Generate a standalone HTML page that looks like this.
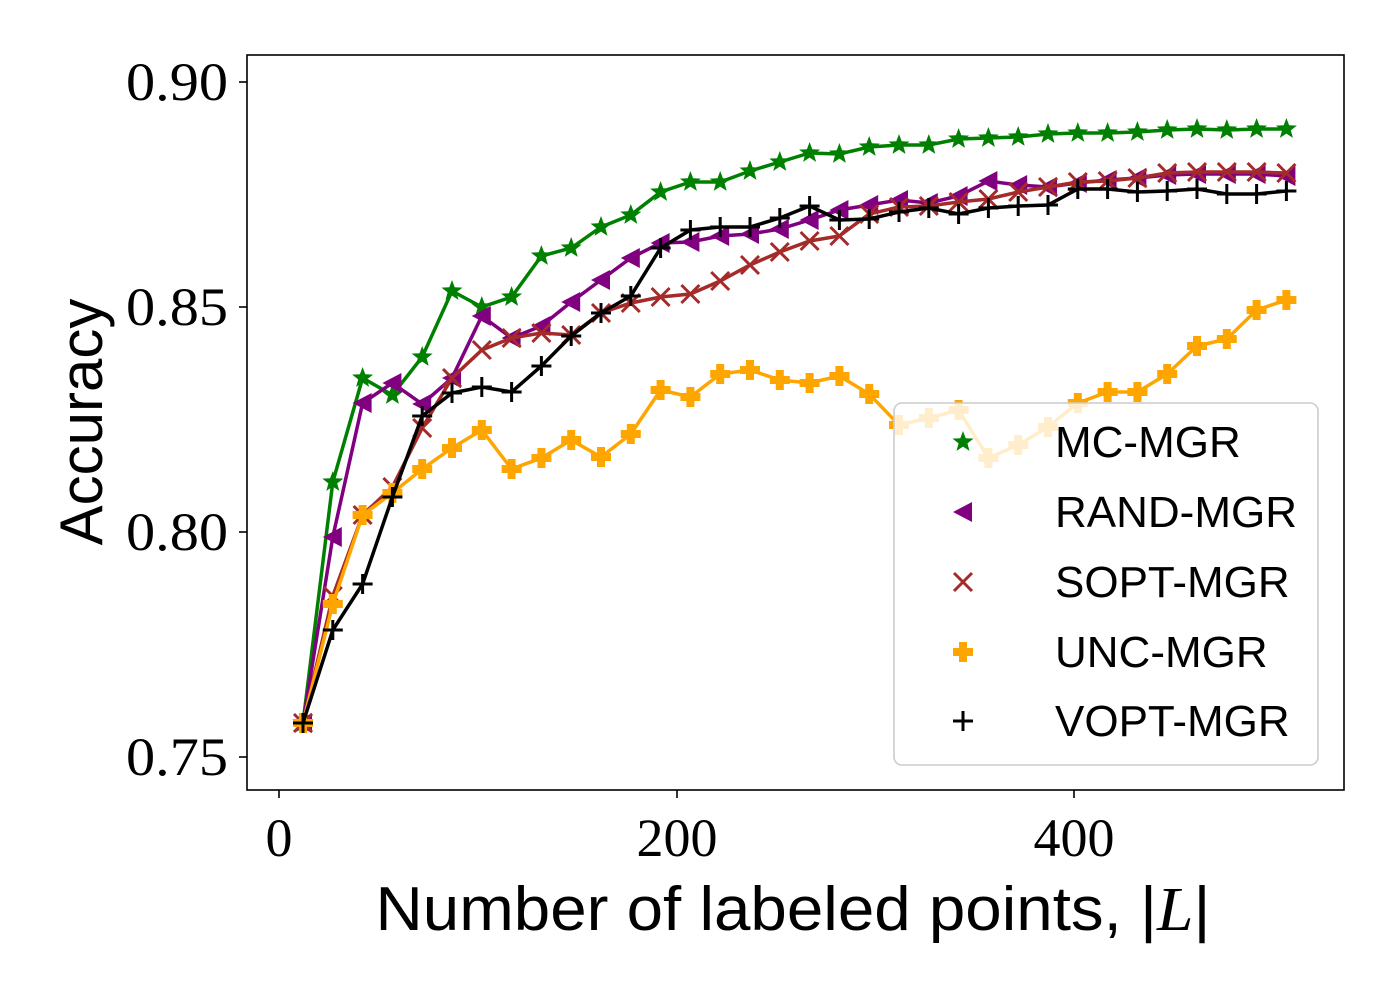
<!DOCTYPE html>
<html><head><meta charset="utf-8"><style>body{margin:0;background:#fff}svg{display:block}</style></head>
<body>
<svg id="s" width="1400" height="1000" viewBox="0 0 1400 1000" xmlns="http://www.w3.org/2000/svg">
<rect width="1400" height="1000" fill="#fff"/>
<g id="plot"></g>
<rect x="247" y="55" width="1097" height="735" fill="none" stroke="#000" stroke-width="1.6"/>
<g stroke="#000" stroke-width="1.6">
<line x1="279" y1="790" x2="279" y2="798"/><line x1="677" y1="790" x2="677" y2="798"/><line x1="1074" y1="790" x2="1074" y2="798"/>
<line x1="239" y1="82" x2="247" y2="82"/><line x1="239" y1="307" x2="247" y2="307"/><line x1="239" y1="532" x2="247" y2="532"/><line x1="239" y1="757" x2="247" y2="757"/>
</g>
<g font-family="Liberation Serif, serif" font-size="54" fill="#000">
<text x="279" y="856" text-anchor="middle">0</text>
<text x="677" y="856" text-anchor="middle">200</text>
<text x="1074" y="856" text-anchor="middle">400</text>
<text x="228" y="100" text-anchor="end" textLength="102" lengthAdjust="spacingAndGlyphs">0.90</text>
<text x="228" y="325" text-anchor="end" textLength="102" lengthAdjust="spacingAndGlyphs">0.85</text>
<text x="228" y="550" text-anchor="end" textLength="102" lengthAdjust="spacingAndGlyphs">0.80</text>
<text x="228" y="775" text-anchor="end" textLength="102" lengthAdjust="spacingAndGlyphs">0.75</text>
</g>
<text x="793" y="930" text-anchor="middle" font-family="Liberation Sans, sans-serif" font-size="62" textLength="835" lengthAdjust="spacingAndGlyphs">Number of labeled points, |<tspan font-family="Liberation Serif, serif" font-style="italic">L</tspan>|</text>
<text transform="translate(102,422) rotate(-90)" text-anchor="middle" font-family="Liberation Sans, sans-serif" font-size="60">Accuracy</text>
<rect x="894" y="403" width="424" height="362" rx="8" fill="#fff" fill-opacity="0.8" stroke="#ccc" stroke-width="1.6"/>
<g id="leg"></g>
<g font-family="Liberation Sans, sans-serif" font-size="44" fill="#000">
<text x="1055" y="457">MC-MGR</text>
<text x="1055" y="527">RAND-MGR</text>
<text x="1055" y="597">SOPT-MGR</text>
<text x="1055" y="667">UNC-MGR</text>
<text x="1055" y="736">VOPT-MGR</text>
</g>
</svg>
<script>
const X=[];for(let i=0;i<34;i++)X.push(303+i*29.8);
const D={
mc:[723,482,378,395,357,291,307,297,256,248,227,215,192,182,182,171,162,153,154,147,145,145,139,138,137,134,133,133,132,130,129,130,129,129],
rand:[723,537,403,383,404,378,316,338,326,302,280,258,243,242,236,234,229,220,210,205,200,203,196,181,185,187,183,180,178,175,174,174,174,176],
sopt:[723,596,515,487,428,378,350,338,333,335,313,303,297,294,281,265,252,241,236,214,207,206,202,199,192,187,182,181,178,173,172,172,172,173],
unc:[723,604,515,493,469,448,430,469,458,440,457,434,390,397,374,370,380,383,376,394,425,418,410,458,445,427,403,392,392,374,346,339,310,300],
vopt:[723,630,584,497,416,393,387,392,366,336,313,296,248,230,227,227,218,206,220,219,212,208,214,208,206,205,189,189,192,191,189,194,194,191]};
const C={mc:'#008000',rand:'#800080',sopt:'#a52a2a',unc:'#ffa500',vopt:'#000'};
function star(x,y,r){let p=[];for(let i=0;i<10;i++){const a=-Math.PI/2+i*Math.PI/5,rr=i%2?r*0.42:r;p.push((x+rr*Math.cos(a)).toFixed(1)+','+(y+rr*Math.sin(a)).toFixed(1));}return `<polygon points="${p.join(' ')}" fill="#008000"/>`;}
function mk(k,x,y){const c=C[k];
if(k=='mc')return star(x,y,11);
if(k=='rand')return `<polygon points="${x-10},${y} ${x+9},${y-10} ${x+9},${y+10}" fill="${c}"/>`;
if(k=='sopt')return `<path d="M${x-9} ${y-9}L${x+9} ${y+9}M${x-9} ${y+9}L${x+9} ${y-9}" stroke="${c}" stroke-width="3"/>`;
if(k=='unc')return `<path d="M${x-4} ${y-10}h8v6h6v8h-6v6h-8v-6h-6v-8h6z" fill="${c}"/>`;
return `<path d="M${x-10} ${y}H${x+10}M${x} ${y-10}V${y+10}" stroke="#000" stroke-width="3"/>`;}
let h='';
for(const k of ['mc','rand','sopt','unc','vopt']){
h+=`<polyline fill="none" stroke="${C[k]}" stroke-width="3.5" points="${D[k].map((y,i)=>X[i].toFixed(1)+','+y).join(' ')}"/>`;
D[k].forEach((y,i)=>h+=mk(k,X[i],y));}
document.getElementById('plot').innerHTML=h;
let l='';['mc','rand','sopt','unc','vopt'].forEach((k,i)=>l+=mk(k,963,[442,512,582,652,721][i]));
document.getElementById('leg').innerHTML=l;
</script>
</body></html>
